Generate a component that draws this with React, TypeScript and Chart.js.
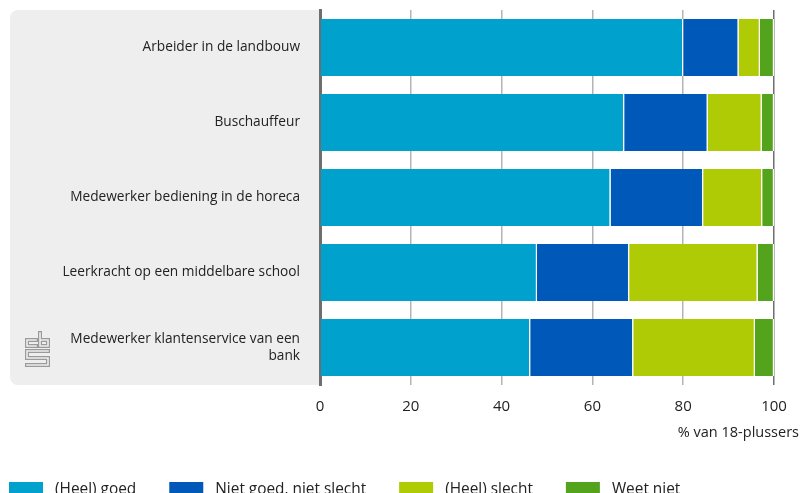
import React, { useEffect, useRef } from "react";
import { Chart, registerables } from "chart.js";
Chart.register(...registerables);

const categories: (string | string[])[] = [
  "Arbeider in de landbouw",
  "Buschauffeur",
  "Medewerker bediening in de horeca",
  "Leerkracht op een middelbare school",
  ["Medewerker klantenservice van een", "bank"],
];
const seriesNames = ["(Heel) goed", "Niet goed, niet slecht", "(Heel) slecht", "Weet niet"];
const heelGoed = [80.0, 67.0, 64.0, 47.8, 46.3];
const nietGoedNietSlecht = [12.2, 18.4, 20.4, 20.3, 22.7];
const heelSlecht = [4.7, 11.9, 13.0, 28.3, 26.8];
const weetNiet = [3.1, 2.7, 2.6, 3.6, 4.2];
const xMin = 0;
const xMax = 100;
const xStep = 20;
const axisTitle = "% van 18-plussers";

const COLORS = ["#00a1cd", "#0058b8", "#afcb05", "#53a31d"];
const FONT = "'Open Sans', sans-serif";
const TEXT = "#222222";

export default function App() {
  const ref = useRef<HTMLCanvasElement>(null);
  useEffect(() => {
    if (!ref.current) return;

    const drawLogo = (ctx: CanvasRenderingContext2D) => {
      const paths: [number, number][][] = [
        [[36, 340], [27, 340], [27, 346], [36, 346]],
        [[40, 333], [40, 346], [48, 346], [48, 340], [40, 340]],
        [[48, 351], [27, 351], [27, 358], [48, 358], [48, 365], [27, 365]],
      ];
      const stroke = (w: number, c: string) => {
        ctx.lineWidth = w;
        ctx.strokeStyle = c;
        ctx.lineJoin = "miter";
        ctx.lineCap = "square";
        for (const p of paths) {
          ctx.beginPath();
          ctx.moveTo(p[0][0], p[0][1]);
          for (let i = 1; i < p.length; i++) ctx.lineTo(p[i][0], p[i][1]);
          ctx.stroke();
        }
      };
      stroke(4, "#9a9a9a");
      stroke(1.6, "#eeeeee");
    };

    const decor = {
      id: "decor",
      beforeDraw(chart: any) {
        const { ctx, chartArea } = chart;
        const x0 = 10, x1 = chartArea.left, y0 = chartArea.top, y1 = chartArea.bottom, r = 8;
        ctx.save();
        ctx.fillStyle = "#eeeeee";
        ctx.beginPath();
        ctx.moveTo(x1, y0);
        ctx.lineTo(x0 + r, y0);
        ctx.arcTo(x0, y0, x0, y0 + r, r);
        ctx.lineTo(x0, y1 - r);
        ctx.arcTo(x0, y1, x0 + r, y1, r);
        ctx.lineTo(x1, y1);
        ctx.closePath();
        ctx.fill();
        drawLogo(ctx);
        ctx.restore();
      },
      afterDraw(chart: any) {
        const { ctx } = chart;
        ctx.save();
        ctx.fillStyle = TEXT;
        ctx.font = `14.5px ${FONT}`;
        ctx.textAlign = "right";
        ctx.textBaseline = "middle";
        ctx.fillText(axisTitle, 799, 433);
        ctx.font = `15.4px ${FONT}`;
        ctx.textAlign = "left";
        let x = 9;
        chart.data.datasets.forEach((ds: any) => {
          ctx.fillStyle = ds.backgroundColor;
          ctx.fillRect(x, 482, 34, 16);
          ctx.fillStyle = TEXT;
          ctx.fillText(ds.label, x + 46, 490);
          x += 46 + ctx.measureText(ds.label).width + 33;
        });
        ctx.restore();
      },
    };

    const values = [heelGoed, nietGoedNietSlecht, heelSlecht, weetNiet];
    const chart = new Chart(ref.current, {
      type: "bar",
      data: {
        labels: categories as any,
        datasets: values.map((v, i) => ({
          label: seriesNames[i],
          data: v,
          backgroundColor: COLORS[i],
          borderColor: "#ffffff",
          borderWidth: { left: 0, right: 1.2, top: 0, bottom: 0 },
          borderSkipped: false,
          barPercentage: 0.76,
          categoryPercentage: 1,
        })),
      },
      options: {
        indexAxis: "y",
        animation: false,
        responsive: true,
        maintainAspectRatio: false,
        layout: { padding: { left: 0, right: 26, top: 10, bottom: 0 } },
        plugins: { legend: { display: false }, tooltip: { enabled: false } },
        scales: {
          x: {
            stacked: true,
            min: xMin,
            max: xMax,
            ticks: { stepSize: xStep, padding: 13, color: TEXT, font: { family: FONT, size: 15 } },
            grid: {
              drawTicks: false,
              color: (c: any) => (c.tick && c.tick.value === 100 ? "#6e6e6e" : c.tick && c.tick.value === 0 ? "rgba(0,0,0,0)" : "#b4b4b4"),
              lineWidth: 1.5,
            },
            border: { display: false },
            afterFit: (s: any) => { s.height = 108; },
          },
          y: {
            stacked: true,
            ticks: { padding: 20, color: TEXT, font: { family: FONT, size: 13.7 } },
            grid: { display: false, drawTicks: false },
            border: { display: true, color: "#6e6e6e", width: 3 },
            afterFit: (s: any) => { s.width = 320; s.paddingTop = 0; s.paddingBottom = 0; },
          },
        },
      },
      plugins: [decor],
    });
    return () => chart.destroy();
  }, []);

  return (
    <div style={{ position: "absolute", left: 0, top: 0, width: 800, height: 493, background: "#ffffff" }}>
      <canvas ref={ref} />
    </div>
  );
}
